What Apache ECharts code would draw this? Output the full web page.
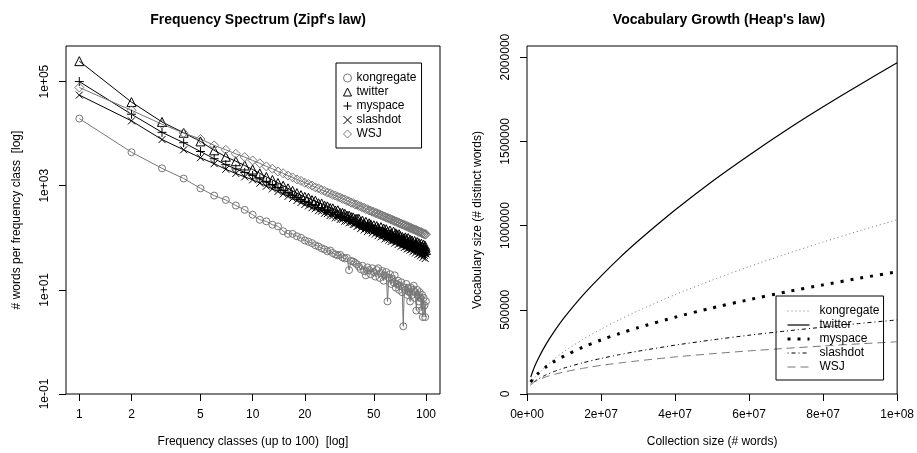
<!DOCTYPE html>
<html><head><meta charset="utf-8">
<script src="https://cdn.jsdelivr.net/npm/echarts@6/dist/echarts.min.js"></script>
<style>html,body{margin:0;padding:0;background:#fff}#c{width:917px;height:453px}</style>
</head><body><div id="c"></div>
<script>
// ---------- Left panel: frequency spectrum (Zipf) ----------
const zipfClasses = [1,2,3,4,5,6,7,8,9,10,11,12,13,14,15,16,17,18,19,20,21,22,23,24,25,26,27,28,29,30,31,32,33,34,35,36,37,38,39,40,41,42,43,44,45,46,47,48,49,50,51,52,53,54,55,56,57,58,59,60,61,62,63,64,65,66,67,68,69,70,71,72,73,74,75,76,77,78,79,80,81,82,83,84,85,86,87,88,89,90,91,92,93,94,95,96,97,98,99,100];
const kongregateFreq = [19500,4400,2160,1375,890,646,533,417,344,277,
 222,207,178,166,134,119,119,107,100,89,
 84,79,72,68,63,60,55,57,51,48,
 46,47,42,40,41,24,36,35,33,31,
 28,25,29,23,19,27,24,20,26,22,
 18,24,26,17,21,23,15,19,22,6,
 17,20,13,16,14,19,11,13,15,10,
 12,14,9,2,11,10,13,8,11,9,
 6,11,8,10,12,7,9,4,10,8,
 6,9,7,4,8,3,7,5,3,6];
const twitterFreq = [247000,40400,16800,10400,7100,4780,3600,2950,2450,2050,
 1730,1480,1290,1130,1000,890,800,720,660,610,
 590,530,515,460,455,415,402,372,368,335,
 338,300,302,290,268,266,250,247,230,232,
 232,205,214,188,203,172,190,181,158,174,
 149,168,155,138,160,133,151,124,146,131,
 114,138,120,109,131,101,122,115,96,117,
 108,88,104,97,83,102,94,79,99,84,
 92,75,89,81,70,87,77,69,83,66,
 79,71,62,77,68,59,74,64,70,58];
const myspaceFreq = [100000,23600,10600,6700,4540,3300,2540,2100,1800,1580,
 1350,1170,1030,910,810,730,660,600,545,500,
 472,430,425,380,378,340,338,305,310,280,
 282,262,258,244,240,224,226,207,210,192,
 178,192,168,181,158,174,151,168,145,149,
 152,128,141,133,119,137,126,110,124,114,
 104,118,99,111,106,92,108,95,88,101,
 84,95,88,77,91,81,73,86,78,68,
 80,71,65,77,69,61,74,66,58,70,
 63,55,67,60,52,64,57,50,61,54];
const slashdotFreq = [55000,17600,7700,4900,3450,2650,2070,1720,1480,1300,
 1120,980,870,775,695,625,570,520,475,435,
 410,378,362,332,325,296,292,268,265,242,
 244,225,226,208,210,194,196,180,183,165,
 171,150,162,141,155,132,146,137,124,133,
 118,129,110,122,104,116,109,95,107,98,
 90,101,85,95,88,79,91,83,74,86,
 78,69,81,72,65,76,68,61,71,63,
 58,67,60,54,64,57,51,61,55,48,
 57,50,45,54,48,42,52,46,40,49];
const wsjFreq = [77000,28100,15200,10300,7900,5950,4900,4100,3550,3060,
 2690,2350,2120,1880,1735,1560,1450,1320,1240,1140,
 1075,1005,930,890,830,795,740,715,668,648,
 612,594,560,545,512,502,472,465,438,432,
 408,403,380,377,356,354,335,332,316,315,
 299,298,284,283,270,268,256,255,244,243,
 233,233,223,223,213,212,204,204,195,195,
 187,188,180,181,173,174,166,167,160,161,
 154,156,149,150,144,145,139,141,135,136,
 130,132,126,128,122,124,118,121,115,117];
const zipfXTicks = [1,2,5,10,20,50,100];
const zipfXTickLabels = ['1','2','5','10','20','50','100'];
const zipfYTicks = [0.1,10,1000,100000];
const zipfYTickLabels = ['1e-01','1e+01','1e+03','1e+05'];

// ---------- Right panel: vocabulary growth (Heaps) ----------
const collectionSizes = [1e6,2e6,3e6,5e6,7.5e6,1e7,1.5e7,2e7,2.5e7,3e7,4e7,5e7,6e7,7e7,8e7,9e7,1e8];
const kongregateVocab = [61000,94000,120000,164000,211000,252000,323000,385000,442000,494000,590000,676000,756000,831000,902000,970000,1035000];
const twitterVocab = [100000,160000,208000,290000,376000,452000,584000,700000,808000,908000,1092000,1262000,1418000,1566000,1705000,1838000,1967000];
const myspaceVocab = [70000,100000,122000,158000,195000,225000,277000,321000,359000,394000,456000,511000,560000,606000,648000,688000,726000];
const slashdotVocab = [54000,74000,89000,112000,135000,154000,185000,211000,234000,254000,290000,321000,349000,374000,397000,419000,440000];
const wsjVocab = [55000,71000,83000,101000,117000,131000,152000,170000,184000,197000,220000,239000,256000,271000,285000,298000,310000];
const heapXTicks = [0,2e7,4e7,6e7,8e7,1e8];
const heapXTickLabels = ['0e+00','2e+07','4e+07','6e+07','8e+07','1e+08'];
const heapYTicks = [0,500000,1000000,1500000,2000000];
const heapYTickLabels = ['0','500000','1000000','1500000','2000000'];

const seriesNames = ['kongregate','twitter','myspace','slashdot','WSJ'];

const GREY = '#777777';
const BLACK = '#000000';
const FONT = '"Liberation Sans", Arial, Helvetica, sans-serif';
const PLUS = 'path://M0,5L10,5M5,0L5,10';
const CROSS = 'path://M0,0L10,10M0,10L10,0';

function lookup(ticks, labels) {
  return function (v) {
    for (let i = 0; i < ticks.length; i++) {
      if (Math.abs(ticks[i] - v) <= 1e-6 * Math.max(1, Math.abs(ticks[i]))) return labels[i];
    }
    return '';
  };
}
function mkAxis(gridIndex, type, min, max, ticks, labels, name, nameGap, isY) {
  const ax = {
    gridIndex, type, min, max,
    name, nameLocation: 'middle', nameGap,
    nameTextStyle: {color: BLACK, fontSize: 12, fontFamily: FONT},
    axisLine: {show: false},
    axisTick: {show: true, inside: false, length: 7, lineStyle: {color: BLACK, width: 1}, customValues: ticks},
    axisLabel: {show: true, color: BLACK, fontSize: 12, fontFamily: FONT, margin: 15,
      customValues: ticks, formatter: lookup(ticks, labels), rotate: isY ? 90 : 0},
    splitLine: {show: false},
    minorTick: {show: false}
  };
  if (type === 'log') ax.logBase = 10;
  return ax;
}

const zipfData = [kongregateFreq, twitterFreq, myspaceFreq, slashdotFreq, wsjFreq];
const zipfSymbols = ['circle','triangle',PLUS,CROSS,'diamond'];
const zipfSymbolSizes = [7,9,9,7,9];
const zipfColors = [GREY,BLACK,BLACK,BLACK,GREY];

const heapData = [kongregateVocab, twitterVocab, myspaceVocab, slashdotVocab, wsjVocab];
const heapColors = [GREY,BLACK,BLACK,BLACK,GREY];
const heapWidths = [1,1.2,3,1,1];
const heapDash = [[1,3],'solid',[3,7],[1,3,4,3],[8,5]];
const HEAP_SUFFIX = ' (heap)';

const series = [];
seriesNames.forEach((name, s) => {
  series.push({
    type: 'line', name, xAxisIndex: 0, yAxisIndex: 0,
    data: zipfClasses.map((k, i) => [k, zipfData[s][i]]),
    symbol: zipfSymbols[s], symbolSize: zipfSymbolSizes[s], showAllSymbol: true,
    itemStyle: {color: 'rgba(0,0,0,0)', borderColor: zipfColors[s], borderWidth: 1},
    lineStyle: {color: zipfColors[s], width: 1},
    emphasis: {disabled: true}, silent: true
  });
});
seriesNames.forEach((name, s) => {
  series.push({
    type: 'line', name: name + HEAP_SUFFIX, xAxisIndex: 1, yAxisIndex: 1,
    data: collectionSizes.map((n, i) => [n, heapData[s][i]]),
    symbol: 'none', smooth: 0.2,
    itemStyle: {color: heapColors[s]},
    lineStyle: {color: heapColors[s], width: heapWidths[s], type: heapDash[s]},
    emphasis: {disabled: true}, silent: true
  });
});

const option = {
  animation: false,
  backgroundColor: '#ffffff',
  textStyle: {fontFamily: FONT},
  title: [
    {text: "Frequency Spectrum (Zipf's law)", left: 253, top: 8, textAlign: 'center',
     textStyle: {fontSize: 14, fontWeight: 'bold', color: BLACK, fontFamily: FONT}},
    {text: "Vocabulary Growth (Heap's law)", left: 714, top: 8, textAlign: 'center',
     textStyle: {fontSize: 14, fontWeight: 'bold', color: BLACK, fontFamily: FONT}}
  ],
  grid: [
    {left: 66, top: 46, width: 374, height: 352, show: true, borderColor: BLACK, borderWidth: 1, backgroundColor: 'transparent'},
    {left: 527, top: 46, width: 374, height: 352, show: true, borderColor: BLACK, borderWidth: 1, backgroundColor: 'transparent'}
  ],
  xAxis: [
    mkAxis(0, 'log', 0.838, 120.5, zipfXTicks, zipfXTickLabels, 'Frequency classes (up to 100)  [log]', 42, false),
    mkAxis(1, 'value', 0, 1e8, heapXTicks, heapXTickLabels, 'Collection size (# words)', 42, false)
  ],
  yAxis: [
    mkAxis(0, 'log', 0.1, 482500, zipfYTicks, zipfYTickLabels, '# words per frequency class  [log]', 43, true),
    mkAxis(1, 'value', 0, 2066000, heapYTicks, heapYTickLabels, 'Vocabulary size (# distinct words)', 43, true)
  ],
  legend: [
    {
      orient: 'vertical', left: 336, top: 63, selectedMode: false,
      borderColor: BLACK, borderWidth: 1, padding: [8, 5, 7, 7], itemGap: 0,
      itemWidth: 8, itemHeight: 8,
      textStyle: {color: BLACK, fontSize: 12, fontFamily: FONT, lineHeight: 14},
      data: seriesNames.map((name, s) => ({
        name, icon: zipfSymbols[s],
        itemStyle: {color: 'rgba(0,0,0,0)', borderColor: zipfColors[s], borderWidth: 1}
      }))
    },
    {
      orient: 'vertical', left: 776, top: 296, selectedMode: false,
      borderColor: BLACK, borderWidth: 1, padding: [8, 4, 6, 10], itemGap: 0,
      itemWidth: 22, itemHeight: 8,
      formatter: (n) => n.replace(HEAP_SUFFIX, ''),
      textStyle: {color: BLACK, fontSize: 12, fontFamily: FONT, lineHeight: 14, padding: [0, 0, 0, 5]},
      data: seriesNames.map((name, s) => ({
        name: name + HEAP_SUFFIX,
        itemStyle: {opacity: 0},
        lineStyle: {color: heapColors[s], width: heapWidths[s], type: heapDash[s], opacity: 1}
      }))
    }
  ],
  series
};
const chart = echarts.init(document.getElementById('c'), null, {renderer: 'canvas'});
chart.setOption(option);
</script>
</body></html>
